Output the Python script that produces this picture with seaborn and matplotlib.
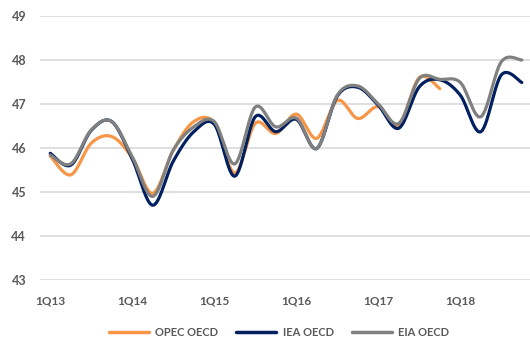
import numpy as np
import pandas as pd
import matplotlib
matplotlib.use("Agg")
import matplotlib.pyplot as plt
import seaborn as sns

quarters = [f"{q}Q{y}" for y in range(13, 19) for q in range(1, 5)]
tick_labels = ["1Q13", "1Q14", "1Q15", "1Q16", "1Q17", "1Q18"]

opec = [45.82, 45.39, 46.11, 46.26, 45.78, 44.97, 45.95, 46.60, 46.57, 45.43,
        46.56, 46.33, 46.77, 46.22, 47.08, 46.67, 46.94, 46.52, 47.60, 47.35]
iea = [45.88, 45.61, 46.40, 46.60, 45.75, 44.70, 45.70, 46.37, 46.54, 45.36,
       46.71, 46.37, 46.65, 45.99, 47.18, 47.38, 46.97, 46.45, 47.39, 47.55,
       47.20, 46.37, 47.66, 47.49]
eia = [45.84, 45.64, 46.41, 46.60, 45.80, 44.90, 45.95, 46.48, 46.60, 45.64,
       46.93, 46.48, 46.68, 45.99, 47.20, 47.41, 47.00, 46.56, 47.58, 47.56,
       47.49, 46.71, 47.96, 48.00]

series = [("OPEC OECD", opec, "#F79646"),
          ("IEA OECD", iea, "#002060"),
          ("EIA OECD", eia, "#808080")]


def smooth(vals, n=30):
    # Excel-style smoothed line (Catmull-Rom Bezier between points)
    p = np.asarray(vals, float)
    x = np.arange(len(p), dtype=float)
    xs, ys = [], []
    for i in range(len(p) - 1):
        x0, y0 = x[i], p[i]
        x3, y3 = x[i + 1], p[i + 1]
        xm, ym = (x[i - 1], p[i - 1]) if i > 0 else (x0, y0)
        xp, yp = (x[i + 2], p[i + 2]) if i + 2 < len(p) else (x3, y3)
        x1, y1 = x0 + (x3 - xm) / 6, y0 + (y3 - ym) / 6
        x2, y2 = x3 - (xp - x0) / 6, y3 - (yp - y0) / 6
        t = np.linspace(0, 1, n, endpoint=(i == len(p) - 2))
        a, b, c, d = (1 - t) ** 3, 3 * (1 - t) ** 2 * t, 3 * (1 - t) * t ** 2, t ** 3
        xs.append(a * x0 + b * x1 + c * x2 + d * x3)
        ys.append(a * y0 + b * y1 + c * y2 + d * y3)
    return np.concatenate(xs), np.concatenate(ys)


frames = []
for name, vals, _ in series:
    sx, sy = smooth(vals)
    frames.append(pd.DataFrame({"x": sx, "y": sy, "series": name}))
df = pd.concat(frames, ignore_index=True)

sns.set_theme(style="white")
plt.rcParams["font.family"] = ["Lato", "DejaVu Sans"]

fig = plt.figure(figsize=(5.30, 3.37), dpi=100)
ax = fig.add_axes([40 / 530, 1 - 280 / 337, 1 - 40 / 530, (280 - 16) / 337])

palette = {name: c for name, _, c in series}
sns.lineplot(data=df, x="x", y="y", hue="series", palette=palette, sort=False,
             estimator=None, linewidth=2.3, ax=ax, legend=True)

ax.set_ylim(43, 49)
ax.set_xlim(-0.5, 23.4)
ax.set_yticks(range(43, 50))
ax.set_xticks([quarters.index(t) for t in tick_labels])
ax.set_xticklabels(tick_labels)
ax.set_xlabel("")
ax.set_ylabel("")
ax.grid(axis="y", color="#d9d9d9", linewidth=1.2)
ax.set_axisbelow(True)
for s in ax.spines.values():
    s.set_visible(False)
ax.tick_params(axis="both", length=0, labelsize=8.5, colors="#595959")
ax.tick_params(axis="y", pad=10, labelsize=9)
ax.tick_params(axis="x", pad=11)
for lbl in ax.get_xticklabels() + ax.get_yticklabels():
    lbl.set_fontweight("bold")

handles, labels = ax.get_legend_handles_labels()
for h in handles:
    h.set_linewidth(2.5)
leg = ax.legend(handles, labels, loc="center", bbox_to_anchor=(279 / 530, 1 - 332 / 337),
                bbox_transform=fig.transFigure, ncol=3, frameon=False,
                handlelength=3.6, columnspacing=1.6, handletextpad=0.6,
                prop={"size": 8, "weight": "bold"})
for t in leg.get_texts():
    t.set_color("#595959")

fig.savefig("out.png", dpi=100)
